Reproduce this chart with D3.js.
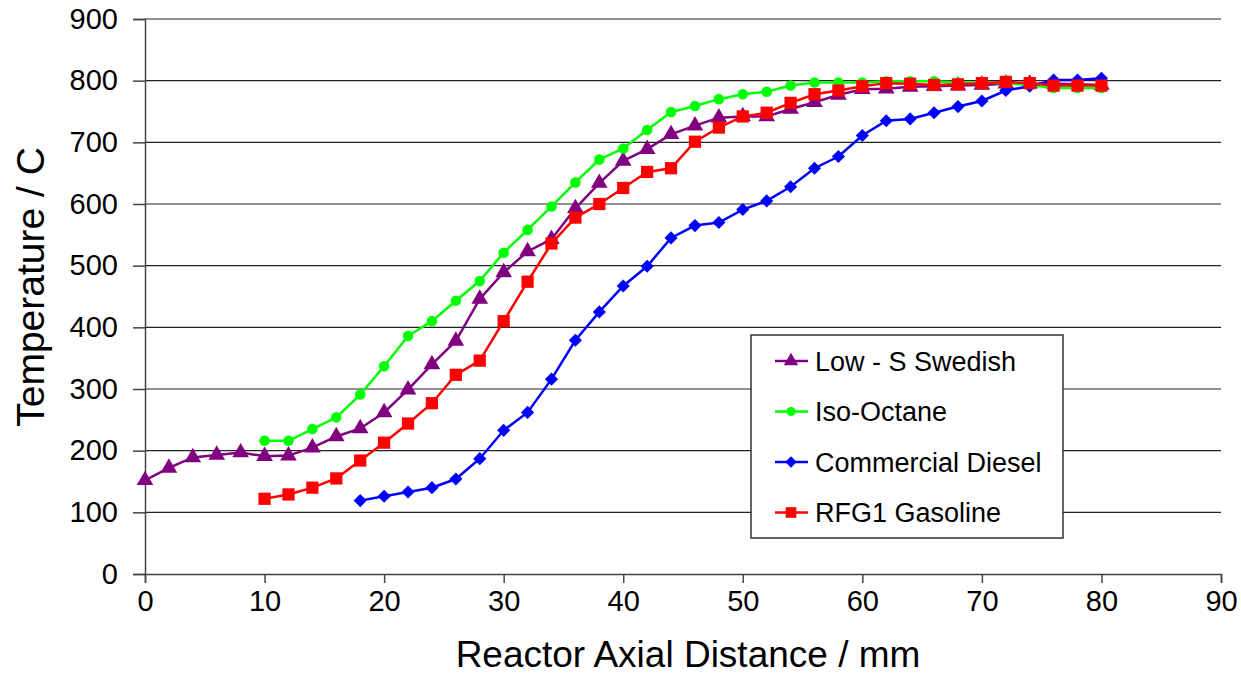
<!DOCTYPE html>
<html>
<head>
<meta charset="utf-8">
<script src="https://cdn.jsdelivr.net/npm/d3@7"></script>
<style>
  body { margin: 0; background: #fff; }
  text { font-family: Arial, "Liberation Sans", sans-serif; }
</style>
</head>
<body>
<svg id="chart" width="1241" height="674"></svg>
<script>
// data (x in mm, temperature in C)
var swedishX = d3.range(0, 81, 2);
var swedishT = [152, 172, 189, 193, 197, 191, 192, 205, 223, 236, 262, 299, 340, 378, 446, 489, 523, 543, 593, 634,
                670, 689, 713, 727, 740, 742, 742, 754, 765, 777, 786, 787, 790, 791, 792, 793, 795, 795, 795, 794, 793];

var octaneX = d3.range(10, 81, 2);
var octaneT = [216, 216, 235, 254, 291, 337, 386, 410, 443, 475, 521, 558, 596, 635, 672, 690, 720, 749, 759, 770,
               778, 782, 792, 797, 797, 797, 799, 799, 799, 797, 797, 796, 793, 788, 788, 788];

var dieselX = d3.range(18, 81, 2);
var dieselT = [119, 126, 133, 140, 154, 187, 233, 262, 316, 379, 425, 467, 499, 545, 565, 570, 591, 605, 628, 658,
               677, 711, 735, 738, 748, 758, 767, 784, 791, 801, 801, 804];

var rfgX = d3.range(10, 81, 2);
var rfgT = [122, 129, 140, 155, 184, 213, 244, 277, 323, 346, 410, 474, 536, 578, 600, 626, 652, 658, 701, 724,
            742, 748, 764, 778, 784, 791, 796, 795, 793, 794, 796, 798, 796, 792, 792, 792];

var seriesNames = ["Low - S Swedish", "Iso-Octane", "Commercial Diesel", "RFG1 Gasoline"];
var seriesColors = ["#800080", "#00ff00", "#0000ff", "#ff0000"];
var diamond = d3.symbolDiamond2 || d3.symbolDiamond;
var seriesShapes = [d3.symbolTriangle, d3.symbolCircle, diamond, d3.symbolSquare];
var seriesSizes = [120, 88, 110, 150];
var xTicks = d3.range(0, 91, 10);
var yTicks = d3.range(0, 901, 100);

var series = [
  { x: swedishX, y: swedishT },
  { x: octaneX, y: octaneT },
  { x: dieselX, y: dieselT },
  { x: rfgX, y: rfgT }
];

var svg = d3.select("#chart");
var plotL = 145, plotR = 1221, plotT = 19, plotB = 574;

var x = d3.scaleLinear().domain([0, 90]).range([plotL, plotR]);
var y = d3.scaleLinear().domain([0, 900]).range([plotB, plotT]);

// horizontal grid
svg.append("g").selectAll("line")
  .data(yTicks.filter(function (d) { return d > 0; }))
  .enter().append("line")
  .attr("x1", plotL).attr("x2", plotR)
  .attr("y1", function (d) { return y(d); })
  .attr("y2", function (d) { return y(d); })
  .attr("stroke", "#222").attr("stroke-width", 1.2);

// axes
var xAxis = svg.append("g")
  .attr("transform", "translate(0," + plotB + ")")
  .call(d3.axisBottom(x).tickValues(xTicks).tickSize(9).tickPadding(5));
var yAxis = svg.append("g")
  .attr("transform", "translate(" + plotL + ",0)")
  .call(d3.axisLeft(y).tickValues(yTicks).tickSize(12).tickPadding(15));

[xAxis, yAxis].forEach(function (g) {
  g.select(".domain").attr("stroke", "#444").attr("stroke-width", 1.5);
  g.selectAll(".tick line").attr("stroke", "#444").attr("stroke-width", 1.5);
  g.selectAll(".tick text")
    .attr("fill", "#000")
    .style("font-size", "29px")
    .style("font-family", "Arial, 'Liberation Sans', sans-serif");
});
xAxis.selectAll(".tick text").attr("dy", "0.8em");

// axis titles
svg.append("text")
  .attr("x", 688).attr("y", 667)
  .attr("text-anchor", "middle")
  .style("font-size", "37px")
  .text("Reactor Axial Distance / mm");

svg.append("text")
  .attr("transform", "translate(44,287) rotate(-90)")
  .attr("text-anchor", "middle")
  .style("font-size", "39px")
  .text("Temperature / C");

// lines + markers
var line = d3.line()
  .x(function (d) { return x(d[0]); })
  .y(function (d) { return y(d[1]); });

series.forEach(function (s, i) {
  var pts = s.x.map(function (v, j) { return [v, s.y[j]]; });
  var g = svg.append("g");
  g.append("path")
    .datum(pts)
    .attr("d", line)
    .attr("fill", "none")
    .attr("stroke", seriesColors[i])
    .attr("stroke-width", 2.5);
  g.selectAll("path.pt")
    .data(pts)
    .enter().append("path")
    .attr("class", "pt")
    .attr("d", d3.symbol().type(seriesShapes[i]).size(seriesSizes[i]))
    .attr("transform", function (d) { return "translate(" + x(d[0]) + "," + y(d[1]) + ")"; })
    .attr("fill", seriesColors[i]);
});

// legend
var legend = svg.append("g");
legend.append("rect")
  .attr("x", 751).attr("y", 335)
  .attr("width", 312).attr("height", 203)
  .attr("fill", "#fff").attr("stroke", "#333").attr("stroke-width", 1.5);

var item = legend.selectAll("g.item")
  .data(seriesNames)
  .enter().append("g")
  .attr("class", "item")
  .attr("transform", function (d, i) { return "translate(0," + (361 + i * 50.5) + ")"; });

item.append("line")
  .attr("x1", 775).attr("x2", 808)
  .attr("stroke", function (d, i) { return seriesColors[i]; })
  .attr("stroke-width", 2.5);
item.append("path")
  .attr("d", function (d, i) { return d3.symbol().type(seriesShapes[i]).size(seriesSizes[i] * 0.75)(); })
  .attr("transform", "translate(791,0)")
  .attr("fill", function (d, i) { return seriesColors[i]; });
item.append("text")
  .attr("x", 815).attr("dy", "0.36em")
  .style("font-size", "27px")
  .text(function (d) { return d; });
</script>
</body>
</html>
